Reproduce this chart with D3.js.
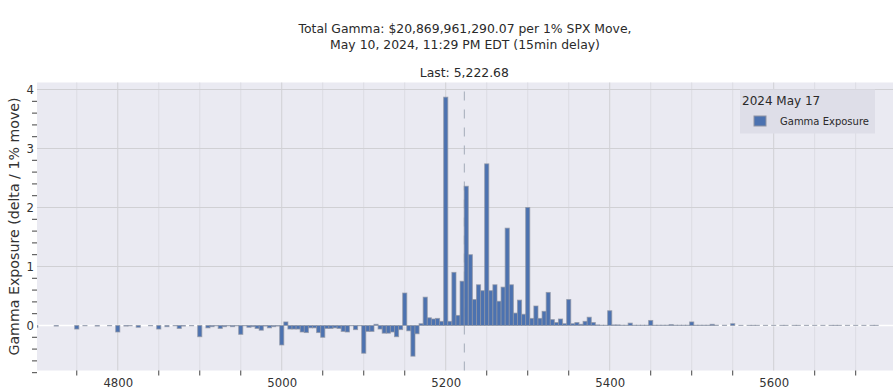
<!DOCTYPE html>
<html lang="en">
<head>
<meta charset="UTF-8">
<title>SPX Gamma Exposure</title>
<script src="https://cdnjs.cloudflare.com/ajax/libs/d3/7.8.5/d3.min.js"></script>
<style>
    body { margin: 0; background: #fff; }
    svg { display: block; font-family: "DejaVu Sans", Verdana, sans-serif; }
</style>
</head>
<body>
<svg id="chart" width="893" height="391"></svg>
<script>
// strikes and gamma exposure (bn $ per 1% move)
const strikes = [
    4700, 4725, 4750, 4760, 4775, 4790, 4800, 4810, 4815, 4825, 4840, 4850, 4860, 4870, 4875, 4880, 4890,
    4900, 4910, 4915, 4920, 4925, 4930, 4935, 4940, 4945, 4950, 4955, 4960, 4965, 4970, 4975, 4980, 4985, 4990, 4995,
    5000, 5005, 5010, 5015, 5020, 5025, 5030, 5035, 5040, 5045, 5050, 5055, 5060, 5065, 5070, 5075, 5080, 5085, 5090, 5095,
    5100, 5105, 5110, 5115, 5120, 5125, 5130, 5135, 5140, 5145, 5150, 5155, 5160, 5165, 5170, 5175, 5180, 5185, 5190, 5195,
    5200, 5205, 5210, 5215, 5220, 5225, 5230, 5235, 5240, 5245, 5250, 5255, 5260, 5265, 5270, 5275, 5280, 5285, 5290, 5295,
    5300, 5305, 5310, 5315, 5320, 5325, 5330, 5335, 5340, 5345, 5350, 5355, 5360, 5365, 5370, 5375, 5380, 5385, 5390, 5395,
    5400, 5405, 5410, 5415, 5420, 5425, 5430, 5435, 5440, 5445, 5450, 5455, 5460, 5465, 5470, 5475, 5480, 5485, 5490, 5495,
    5500, 5505, 5510, 5515, 5520, 5525, 5530, 5540, 5550, 5560, 5570, 5575, 5580, 5590,
    5600, 5610, 5615, 5625, 5630, 5640, 5650, 5660, 5670, 5675, 5680, 5690, 5700, 5710, 5720, 5725
];
const gamma = [
    -0.03, -0.01, -0.06, -0.005, -0.01, -0.005, -0.11, -0.01, -0.005, -0.03, -0.005, -0.06, -0.02, -0.005, -0.05, -0.01, -0.005,
    -0.19, -0.04, -0.02, -0.005, -0.05, -0.02, -0.005, -0.02, -0.005, -0.15, -0.005, -0.03, -0.02, -0.05, -0.08, -0.01, -0.04, -0.02, -0.01,
    -0.33, 0.06, -0.06, -0.06, -0.06, -0.11, -0.12, -0.04, -0.04, -0.12, -0.20, -0.05, -0.05, -0.04, -0.05, -0.10, -0.11, -0.005, -0.07, -0.005,
    -0.47, -0.10, -0.10, 0.02, -0.06, -0.13, -0.13, -0.11, -0.19, -0.07, 0.55, -0.09, -0.52, -0.14, 0.03, 0.48, 0.13, 0.11, 0.12, 0.07,
    3.87, 0.07, 0.90, 0.17, 0.75, 2.36, 1.20, 0.44, 0.69, 0.59, 2.74, 0.59, 0.69, 0.41, 0.65, 1.65, 0.69, 0.21, 0.43, 0.19,
    2.00, 0.12, 0.33, 0.12, 0.24, 0.56, 0.10, 0.05, 0.11, 0.03, 0.44, 0.03, 0.05, 0.02, 0.07, 0.14, 0.05, 0.01, 0.005, 0.005,
    0.25, 0.01, 0.01, 0.005, 0.005, 0.04, 0.005, 0.005, 0.005, 0.005, 0.085, 0.005, 0.005, 0.005, 0.005, 0.015, 0.005, 0.005, 0.005, 0.005,
    0.06, 0.005, 0.005, 0.005, 0.005, 0.02, 0.005, 0.005, 0.03, 0.003, 0.003, 0.003, 0.003, 0.003,
    0.003, 0.003, 0.003, 0.003, 0.003, 0.003, 0.003, 0.003, 0.003, 0.003, 0.003, 0.003, 0.003, 0.003, 0.003, 0.003
];
const xTickLabels = [4800, 5000, 5200, 5400, 5600];
const yTickLabels = [0, 1, 2, 3, 4];
const lastPrice = 5222.68;
const titleLines = [
    "Total Gamma: $20,869,961,290.07 per 1% SPX Move,",
    "May 10, 2024, 11:29 PM EDT (15min delay)"
];
const lastLabel = "Last: 5,222.68";
const legendTitle = "2024 May 17";
const seriesName = "Gamma Exposure";
const yTitle = "Gamma Exposure (delta / 1% move)";

const svg = d3.select("#chart");
const plot = { left: 37, right: 893, top: 82.5, bottom: 370.5 };
const strikeStep = 5;

const x = d3.scaleLinear().domain([4701.5, 5745.5]).range([plot.left, plot.right]);
const y = d3.scaleLinear().domain([4.119, -0.763]).range([plot.top, plot.bottom]);

svg.append("defs").append("clipPath").attr("id", "clip")
    .append("rect")
    .attr("x", plot.left).attr("y", plot.top)
    .attr("width", plot.right - plot.left).attr("height", plot.bottom - plot.top);

// background
svg.append("rect")
    .attr("x", plot.left).attr("y", plot.top)
    .attr("width", plot.right - plot.left).attr("height", plot.bottom - plot.top)
    .attr("fill", "#eaeaf2");

// grid: minor every 50, major at labelled ticks
const minorX = d3.range(4750, 5750, 50).filter(v => !xTickLabels.includes(v));
svg.append("g").selectAll("line").data(minorX).join("line")
    .attr("x1", d => x(d)).attr("x2", d => x(d))
    .attr("y1", plot.top).attr("y2", plot.bottom)
    .attr("stroke", "#dcdce3").attr("stroke-width", 1);
svg.append("g").selectAll("line").data(xTickLabels).join("line")
    .attr("x1", d => x(d)).attr("x2", d => x(d))
    .attr("y1", plot.top).attr("y2", plot.bottom)
    .attr("stroke", "#d0d0d4").attr("stroke-width", 1);
svg.append("g").selectAll("line").data(yTickLabels.filter(d => d !== 0)).join("line")
    .attr("x1", plot.left).attr("x2", plot.right)
    .attr("y1", d => y(d)).attr("y2", d => y(d))
    .attr("stroke", "#d0d0d4").attr("stroke-width", 1);

// zero line
svg.append("line")
    .attr("x1", plot.left).attr("x2", plot.right)
    .attr("y1", y(0)).attr("y2", y(0))
    .attr("stroke", "#fff").attr("stroke-width", 1.5);

// last price marker (drawn bottom-up so the dash phase matches)
svg.append("line")
    .attr("x1", x(lastPrice)).attr("x2", x(lastPrice))
    .attr("y1", plot.bottom).attr("y2", plot.top)
    .attr("stroke", "#a3abb8").attr("stroke-width", 1)
    .attr("stroke-dasharray", "9,9");

// bars
const data = strikes.map((s, i) => ({ strike: s, value: gamma[i] }));
svg.append("g").attr("clip-path", "url(#clip)")
    .selectAll("rect").data(data).join("rect")
    .attr("x", d => x(d.strike - strikeStep / 2))
    .attr("width", d => x(d.strike + strikeStep / 2) - x(d.strike - strikeStep / 2))
    .attr("y", d => Math.min(y(d.value), y(0)))
    .attr("height", d => Math.abs(y(d.value) - y(0)))
    .attr("fill", "#4c72b0")
    .attr("stroke", "#8f94a3").attr("stroke-opacity", 0.7).attr("stroke-width", 1);

// x axis
const xAxis = d3.axisBottom(x).tickValues(xTickLabels).tickSize(0).tickPadding(8).tickFormat(d3.format("d"));
const gx = svg.append("g").attr("transform", `translate(0,${plot.bottom})`).call(xAxis);
gx.select(".domain").remove();
gx.selectAll("text").attr("font-size", 11.7).attr("fill", "#333").attr("font-family", "DejaVu Sans");
svg.append("g").selectAll("line").data(minorX).join("line")
    .attr("x1", d => x(d)).attr("x2", d => x(d))
    .attr("y1", plot.bottom).attr("y2", plot.bottom + 5)
    .attr("stroke", "#444").attr("stroke-width", 1);

// y axis
const yAxis = d3.axisLeft(y).tickValues(yTickLabels).tickSize(0).tickPadding(3).tickFormat(d3.format("d"));
const gy = svg.append("g").attr("transform", `translate(${plot.left},0)`).call(yAxis);
gy.select(".domain").remove();
gy.selectAll("text").attr("font-size", 11.7).attr("fill", "#333").attr("font-family", "DejaVu Sans");
const minorY = d3.range(-6, 21).map(v => v / 5).filter(v => !Number.isInteger(v));
svg.append("g").selectAll("line").data(minorY).join("line")
    .attr("x1", plot.left - 5).attr("x2", plot.left)
    .attr("y1", d => y(d)).attr("y2", d => y(d))
    .attr("stroke", "#444").attr("stroke-width", 1);

svg.append("text")
    .attr("transform", `translate(19,${(plot.top + plot.bottom) / 2}) rotate(-90)`)
    .attr("text-anchor", "middle")
    .attr("font-size", 14.2).attr("fill", "#333")
    .text(yTitle);

// title
const cx = (plot.left + plot.right) / 2;
svg.append("g").selectAll("text").data(titleLines).join("text")
    .attr("x", cx).attr("y", (d, i) => 33 + i * 16)
    .attr("text-anchor", "middle")
    .attr("font-size", 12.4).attr("fill", "#2a2a2a")
    .text(d => d);
svg.append("text")
    .attr("x", x(lastPrice)).attr("y", 77)
    .attr("text-anchor", "middle")
    .attr("font-size", 12.4).attr("fill", "#2a2a2a")
    .text(lastLabel);

// legend
const legend = svg.append("g");
legend.append("rect")
    .attr("x", 740).attr("y", 89.5).attr("width", 135).attr("height", 44)
    .attr("fill", "#dedee8");
legend.append("text")
    .attr("x", 742).attr("y", 105)
    .attr("font-size", 12).attr("fill", "#2a2a2a")
    .text(legendTitle);
legend.append("rect")
    .attr("x", 754).attr("y", 116).attr("width", 12).attr("height", 10)
    .attr("fill", "#4c72b0").attr("stroke", "#8f94a3").attr("stroke-width", 1);
legend.append("text")
    .attr("x", 780).attr("y", 124.5)
    .attr("font-size", 10).attr("fill", "#2a2a2a")
    .text(seriesName);
</script>
</body>
</html>
